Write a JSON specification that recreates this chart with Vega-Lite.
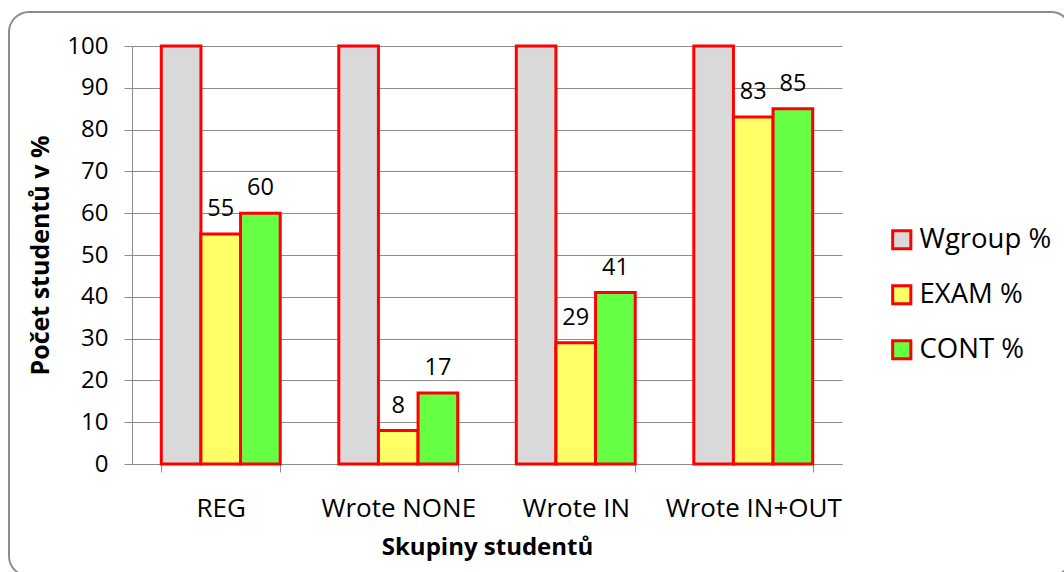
{
  "$schema": "https://vega.github.io/schema/vega-lite/v6.json",
  "width": 1062,
  "height": 564,
  "autosize": {"type": "none"},
  "padding": {"left": 9, "top": 12, "right": 0, "bottom": 0},
  "background": "white",
  "config": {
    "font": "Open Sans",
    "view": {"stroke": "#8c8c8c", "strokeWidth": 2, "cornerRadius": 20}
  },
  "data": {
    "values": [
      {"group": "REG", "series": "Wgroup %", "value": 100},
      {"group": "REG", "series": "EXAM %", "value": 55},
      {"group": "REG", "series": "CONT %", "value": 60},
      {"group": "Wrote NONE", "series": "Wgroup %", "value": 100},
      {"group": "Wrote NONE", "series": "EXAM %", "value": 8},
      {"group": "Wrote NONE", "series": "CONT %", "value": 17},
      {"group": "Wrote IN", "series": "Wgroup %", "value": 100},
      {"group": "Wrote IN", "series": "EXAM %", "value": 29},
      {"group": "Wrote IN", "series": "CONT %", "value": 41},
      {"group": "Wrote IN+OUT", "series": "Wgroup %", "value": 100},
      {"group": "Wrote IN+OUT", "series": "EXAM %", "value": 83},
      {"group": "Wrote IN+OUT", "series": "CONT %", "value": 85}
    ]
  },
  "encoding": {
    "x": {
      "field": "group",
      "type": "nominal",
      "sort": ["REG", "Wrote NONE", "Wrote IN", "Wrote IN+OUT"],
      "scale": {"range": [123, 833], "paddingInner": 0.33, "paddingOuter": 0.165},
      "axis": {
        "title": "Skupiny studentů",
        "titleFontSize": 24,
        "titleFontWeight": "bold",
        "titleColor": "black",
        "titlePadding": 14,
        "labelAngle": 0,
        "labelFontSize": 26,
        "labelColor": "black",
        "labelPadding": 23,
        "tickBand": "extent",
        "tickSize": 8,
        "tickColor": "#8c8c8c",
        "domainColor": "#8c8c8c",
        "grid": false,
        "offset": -112
      }
    },
    "xOffset": {
      "field": "series",
      "sort": ["Wgroup %", "EXAM %", "CONT %"],
      "scale": {"paddingInner": 0, "paddingOuter": 0}
    },
    "y": {
      "field": "value",
      "type": "quantitative",
      "scale": {"domain": [0, 100], "range": [452, 34], "nice": false},
      "axis": {
        "title": "Počet studentů v %",
        "titleFontSize": 25,
        "titleFontWeight": "bold",
        "titleColor": "black",
        "titleBaseline": "middle",
        "titleX": -92,
        "values": [0, 10, 20, 30, 40, 50, 60, 70, 80, 90, 100],
        "labelFontSize": 24,
        "labelColor": "black",
        "labelPadding": 16,
        "tickSize": 8,
        "tickColor": "#8c8c8c",
        "domainColor": "#8c8c8c",
        "grid": true,
        "gridColor": "#8c8c8c",
        "gridWidth": 1,
        "offset": -123
      }
    }
  },
  "layer": [
    {
      "mark": {"type": "bar", "stroke": "#ff0000", "strokeWidth": 3},
      "encoding": {
        "fill": {
          "field": "series",
          "type": "nominal",
          "sort": ["Wgroup %", "EXAM %", "CONT %"],
          "scale": {
            "domain": ["Wgroup %", "EXAM %", "CONT %"],
            "range": ["#d9d9d9", "#ffff66", "#66ff44"]
          },
          "legend": {
            "orient": "none",
            "legendX": 879,
            "legendY": 214,
            "title": null,
            "padding": 0,
            "labelFontSize": 27.5,
            "labelColor": "black",
            "labelOffset": 4,
            "symbolType": "square",
            "symbolSize": 330,
            "symbolStrokeColor": "#ff0000",
            "symbolStrokeWidth": 3,
            "rowPadding": 24
          }
        }
      }
    },
    {
      "transform": [{"filter": "datum.series !== 'Wgroup %'"}],
      "mark": {"type": "text", "baseline": "alphabetic", "dy": -18, "fontSize": 23.5, "color": "black"},
      "encoding": {"text": {"field": "value", "type": "quantitative"}}
    }
  ]
}
